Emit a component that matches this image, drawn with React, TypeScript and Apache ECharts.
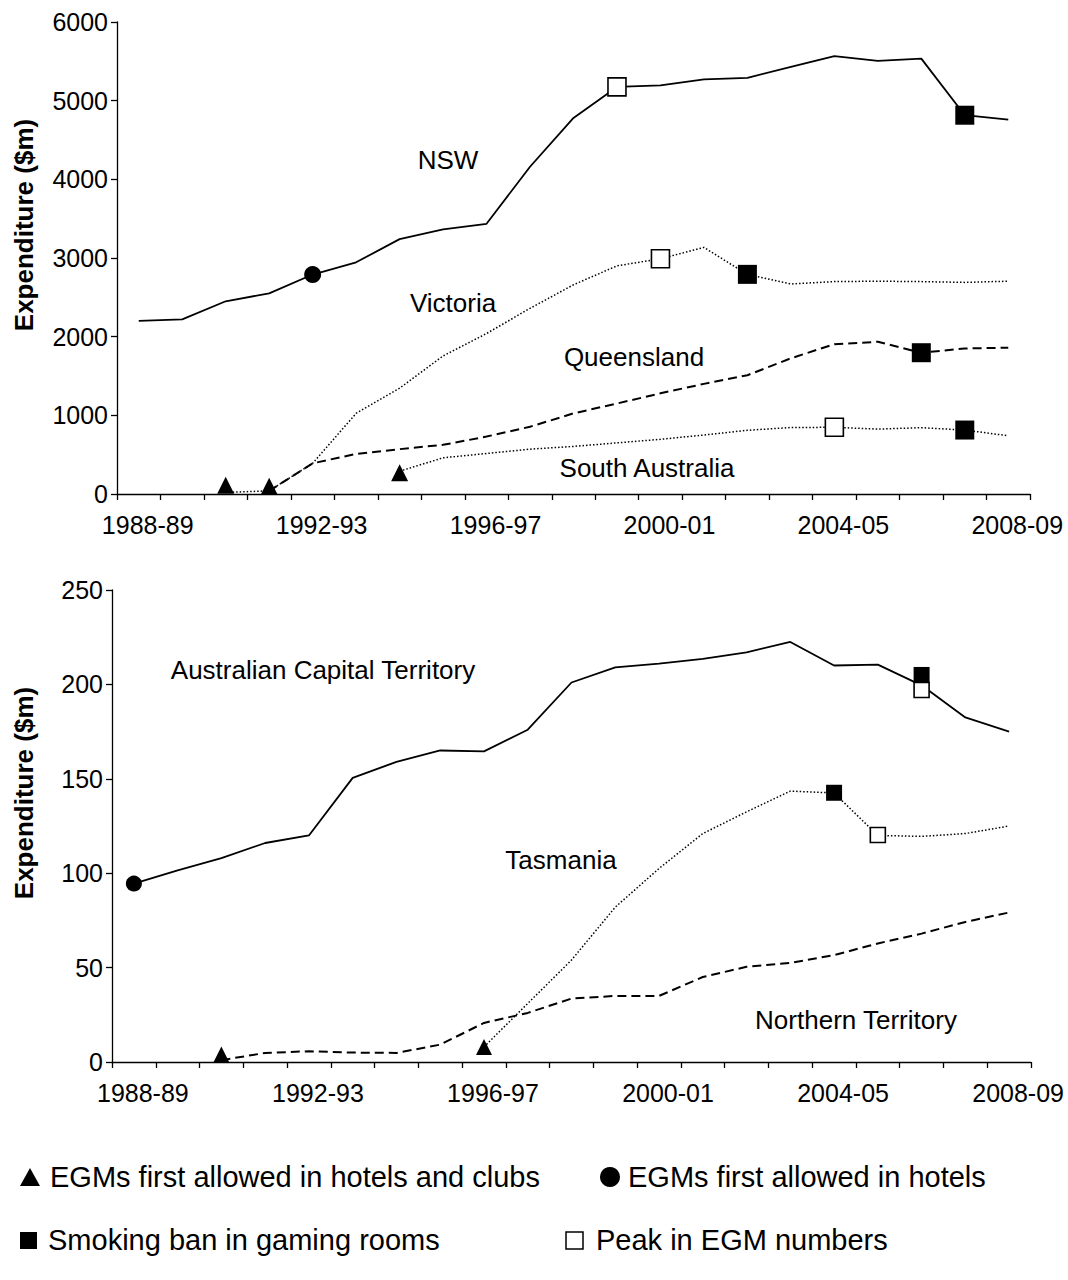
import React, { useEffect, useRef } from "react";
import * as echarts from "echarts";

const FONT = '"Liberation Sans", Arial, Helvetica, sans-serif';

const years = [
  "1988-89", "1989-90", "1990-91", "1991-92", "1992-93", "1993-94", "1994-95",
  "1995-96", "1996-97", "1997-98", "1998-99", "1999-00", "2000-01", "2001-02",
  "2002-03", "2003-04", "2004-05", "2005-06", "2006-07", "2007-08", "2008-09",
];

// Top panel ($m)
const nsw = [2200, 2220, 2450, 2550, 2790, 2945, 3240, 3365, 3435, 4160, 4780, 5175, 5195, 5270, 5290, 5430, 5565, 5505, 5535, 4815, 4760];
const victoria = [null, null, 20, 40, 390, 1025, 1345, 1755, 2040, 2360, 2660, 2900, 2990, 3135, 2790, 2670, 2700, 2705, 2700, 2690, 2705];
const queensland = [null, null, null, 40, 390, 510, 570, 625, 730, 855, 1025, 1150, 1280, 1400, 1510, 1725, 1905, 1935, 1795, 1850, 1860];
const southAustralia = [null, null, null, null, null, null, 290, 460, 515, 570, 605, 650, 695, 750, 810, 845, 848, 825, 843, 813, 740];

// Bottom panel ($m)
const act = [94.5, 101.5, 108, 116, 120, 150.5, 159, 165, 164.5, 176, 201, 209, 211, 213.5, 217, 222.5, 210, 210.5, 199.5, 182.5, 175];
const tasmania = [null, null, null, null, null, null, null, null, 8, 31, 54, 82, 102.5, 121, 132.5, 143.5, 142.5, 120, 119.5, 121, 125];
const northernTerritory = [null, null, 1, 4.8, 5.7, 5, 4.8, 9.2, 20.7, 26, 33.6, 35, 35, 45, 50.4, 52.5, 56.6, 62.8, 68, 74.2, 79.2];

// Event markers [year, value]
const topTriangles = [["1990-91", 110], ["1991-92", 100], ["1994-95", 270]];
const topCircles = [["1992-93", 2790]];
const topSmoking = [["2007-08", 4815], ["2002-03", 2792], ["2006-07", 1796], ["2007-08", 813]];
const topPeak = [["1999-00", 5175], ["2000-01", 2990], ["2004-05", 848]];

const botTriangles = [["1990-91", 4], ["1996-97", 8]];
const botCircles = [["1988-89", 94.5]];
const botSmoking = [["2006-07", 205], ["2004-05", 142.6]];
const botPeak = [["2006-07", 197], ["2005-06", 120.2]];

const legendItems = [
  "EGMs first allowed in hotels and clubs",
  "EGMs first allowed in hotels",
  "Smoking ban in gaming rooms",
  "Peak in EGM numbers",
];

function xAxis(gridIndex: number) {
  return {
    type: "category",
    gridIndex,
    data: years,
    boundaryGap: true,
    axisLine: { lineStyle: { color: "#000", width: 1.3 } },
    axisTick: { show: true, interval: 0, length: 6, lineStyle: { color: "#000", width: 1.3 } },
    axisLabel: {
      interval: 3,
      color: "#000",
      fontSize: 25,
      fontFamily: FONT,
      margin: 18,
      padding: [0, 0, 0, 18],
    },
    splitLine: { show: false },
  };
}

function yAxis(gridIndex: number, max: number, interval: number) {
  return {
    type: "value",
    gridIndex,
    min: 0,
    max,
    interval,
    axisLine: { show: true, lineStyle: { color: "#000", width: 1.3 } },
    axisTick: { show: true, length: 6, lineStyle: { color: "#000", width: 1.3 } },
    axisLabel: {
      color: "#000",
      fontSize: 25,
      fontFamily: FONT,
      margin: 9,
      formatter: (v: number) => String(v),
    },
    splitLine: { show: false },
  };
}

function lineSeries(name: string, data: (number | null)[], idx: number, type: any, width: number) {
  return {
    name,
    type: "line",
    xAxisIndex: idx,
    yAxisIndex: idx,
    data,
    symbol: "none",
    lineStyle: { color: "#000", width, type },
    z: 2,
  };
}

function markerSeries(data: any[], idx: number, symbol: string, size: number, open = false) {
  return {
    type: "scatter",
    xAxisIndex: idx,
    yAxisIndex: idx,
    data,
    symbol,
    symbolSize: size,
    itemStyle: open
      ? { color: "#fff", borderColor: "#000", borderWidth: 1.6, opacity: 1 }
      : { color: "#000", opacity: 1 },
    z: 5,
  };
}

function label(text: string, x: number, y: number, size = 26) {
  return {
    type: "text",
    x,
    y,
    style: {
      text,
      fill: "#000",
      fontSize: size,
      fontFamily: FONT,
      align: "center",
      verticalAlign: "middle",
    },
    z: 10,
  };
}

function legendText(text: string, x: number, y: number) {
  return {
    type: "text",
    x,
    y,
    style: {
      text,
      fill: "#000",
      fontSize: 29,
      fontFamily: FONT,
      align: "left",
      verticalAlign: "middle",
    },
  };
}

function yName(x: number, y: number) {
  return {
    type: "text",
    x,
    y,
    rotation: Math.PI / 2,
    style: {
      text: "Expenditure ($m)",
      fill: "#000",
      fontSize: 26,
      fontWeight: "bold",
      fontFamily: FONT,
      align: "center",
      verticalAlign: "middle",
    },
  };
}

export default function App() {
  const ref = useRef<HTMLDivElement>(null);
  useEffect(() => {
    if (!ref.current) return;
    const chart = echarts.init(ref.current, null, { renderer: "svg" });
    const option: any = {
      animation: false,
      backgroundColor: "#fff",
      grid: [
        { left: 117, right: 38, top: 22, height: 472, containLabel: false },
        { left: 112, right: 37, top: 590, height: 472, containLabel: false },
      ],
      xAxis: [xAxis(0), xAxis(1)],
      yAxis: [yAxis(0, 6000, 1000), yAxis(1, 250, 50)],
      series: [
        lineSeries("NSW", nsw, 0, "solid", 1.8),
        lineSeries("Victoria", victoria, 0, [1.5, 2], 1.5),
        lineSeries("Queensland", queensland, 0, [9, 5], 2),
        lineSeries("South Australia", southAustralia, 0, [1.5, 2], 1.5),
        markerSeries(topTriangles, 0, "triangle", 17),
        markerSeries(topCircles, 0, "circle", 17),
        markerSeries(topSmoking, 0, "rect", 19),
        markerSeries(topPeak, 0, "rect", 18, true),
        lineSeries("Australian Capital Territory", act, 1, "solid", 1.8),
        lineSeries("Tasmania", tasmania, 1, [1.5, 2], 1.5),
        lineSeries("Northern Territory", northernTerritory, 1, [9, 5], 2),
        markerSeries(botTriangles, 1, "triangle", 16),
        markerSeries(botCircles, 1, "circle", 16),
        markerSeries(botSmoking, 1, "rect", 16),
        markerSeries(botPeak, 1, "rect", 15, true),
      ],
      graphic: [
        yName(24, 225),
        yName(24, 793),
        label("NSW", 448, 160),
        label("Victoria", 453, 303),
        label("Queensland", 634, 357),
        label("South Australia", 647, 468),
        label("Australian Capital Territory", 323, 670),
        label("Tasmania", 561, 860),
        label("Northern Territory", 856, 1020),
        // legend symbols
        { type: "polygon", shape: { points: [[30, 1168], [20, 1186], [40, 1186]] }, style: { fill: "#000" } },
        { type: "circle", shape: { cx: 610, cy: 1177, r: 10 }, style: { fill: "#000" } },
        { type: "rect", shape: { x: 20, y: 1232, width: 17, height: 17 }, style: { fill: "#000" } },
        { type: "rect", shape: { x: 566, y: 1232, width: 17, height: 17 }, style: { fill: "#fff", stroke: "#000", lineWidth: 1.5 } },
        legendText(legendItems[0], 50, 1177),
        legendText(legendItems[1], 628, 1177),
        legendText(legendItems[2], 48, 1240),
        legendText(legendItems[3], 596, 1240),
      ],
    };
    chart.setOption(option);
    return () => chart.dispose();
  }, []);
  return (
    <div
      ref={ref}
      style={{ position: "absolute", left: 0, top: 0, width: 1068, height: 1280, background: "#fff" }}
    />
  );
}
